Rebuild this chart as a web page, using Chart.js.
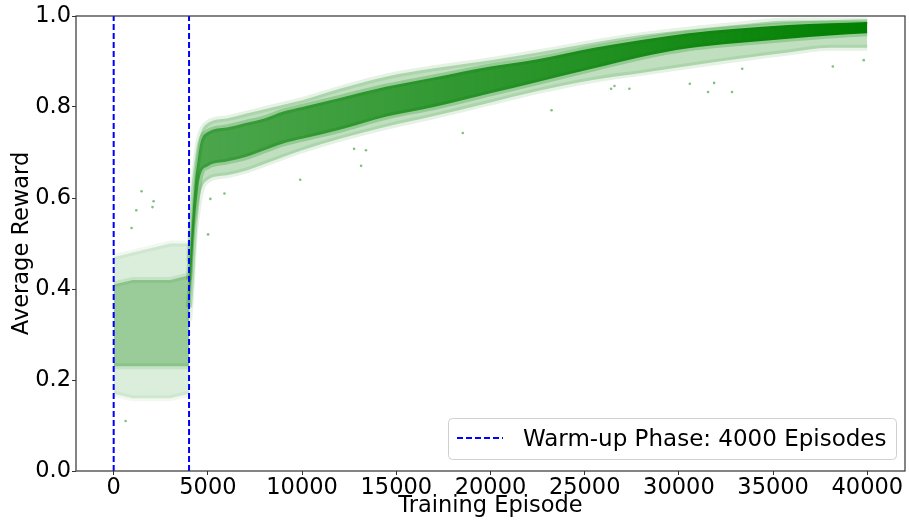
<!DOCTYPE html>
<html>
<head>
<meta charset="utf-8">
<script src="https://cdn.jsdelivr.net/npm/chart.js@4.4.1/dist/chart.umd.min.js"></script>
<style>
  body { margin: 0; background: #fff; }
  #wrap { width: 909px; height: 521px; }
</style>
</head>
<body>
<div id="wrap"><canvas id="chart" width="909" height="521"></canvas></div>
<script>
// warm-up episodes: spread of the reward cloud
var warmEpisodes  = [0, 1000, 2000, 3000, 4000];
var warmOuterLow  = [0.17, 0.16, 0.16, 0.16, 0.17];
var warmCoreLow   = [0.23, 0.23, 0.23, 0.23, 0.23];
var warmCoreHigh  = [0.41, 0.42, 0.42, 0.42, 0.43];
var warmOuterHigh = [0.47, 0.48, 0.49, 0.50, 0.50];

// training episodes after warm-up
var trainEpisodes  = [4000, 4100, 4200, 4300, 4450, 4600, 5000, 6000, 7000, 8000, 9000, 10000,
                      12000, 14500, 17000, 20000, 22500, 25500, 28000, 30500, 33000, 35800, 38000, 40000];
var trainOuterLow  = [0.33, 0.38, 0.45, 0.52, 0.57, 0.61, 0.64, 0.65, 0.66, 0.675, 0.69, 0.705,
                      0.73, 0.757, 0.78, 0.81, 0.835, 0.86, 0.875, 0.89, 0.905, 0.92, 0.93, 0.93];
var trainCoreLow   = [0.36, 0.42, 0.49, 0.55, 0.61, 0.65, 0.67, 0.68, 0.69, 0.705, 0.72, 0.73,
                      0.75, 0.779, 0.80, 0.83, 0.855, 0.885, 0.91, 0.929, 0.94, 0.95, 0.957, 0.962];
var trainCoreHigh  = [0.42, 0.50, 0.57, 0.63, 0.68, 0.72, 0.745, 0.755, 0.765, 0.775, 0.79, 0.80,
                      0.82, 0.845, 0.865, 0.889, 0.905, 0.93, 0.947, 0.962, 0.972, 0.98, 0.984, 0.987];
var trainOuterHigh = [0.46, 0.54, 0.61, 0.66, 0.71, 0.74, 0.765, 0.775, 0.785, 0.795, 0.805, 0.815,
                      0.84, 0.867, 0.885, 0.903, 0.92, 0.942, 0.958, 0.97, 0.98, 0.99, 0.99, 0.99];

// stray points that sit away from the cloud
var strayEpisodes = [635, 950, 1200, 1480, 2060, 2120, 5010, 5130, 5880, 9900, 12760, 13130, 13390,
                     18530, 23240, 26400, 26580, 27370, 30580, 31550, 31870, 32820, 33360, 38170, 39810];
var strayRewards  = [0.11, 0.534, 0.573, 0.615, 0.58, 0.593, 0.52, 0.598, 0.61, 0.64, 0.708, 0.671, 0.705,
                     0.743, 0.793, 0.84, 0.846, 0.84, 0.851, 0.833, 0.853, 0.833, 0.884, 0.889, 0.903];

var warmupEnd = 4000;
var xTicks = [0, 5000, 10000, 15000, 20000, 25000, 30000, 35000, 40000];
var yTicks = [0.0, 0.2, 0.4, 0.6, 0.8, 1.0];

function pts(xs, ys) {
    return xs.map(function(x, i) { return {x: x, y: ys[i]}; });
}

// one edge of a filled band; the wide faint border softens the edge
function band(xs, ys, color, edge, fill, order, smooth) {
    return {
        type: 'line',
        order: order,
        data: pts(xs, ys),
        borderWidth: 6,
        borderColor: edge,
        pointRadius: 0,
        tension: smooth ? 0.4 : 0,
        cubicInterpolationMode: smooth ? 'monotone' : 'default',
        backgroundColor: color,
        fill: fill ? '-1' : false
    };
}

// core gets denser towards the end of training
function coreGradient(context) {
    var chart = context.chart;
    if (!chart.chartArea) return 'rgba(0,128,0,0.75)';
    var xs = chart.scales.x;
    var g = chart.ctx.createLinearGradient(xs.getPixelForValue(4000), 0, xs.getPixelForValue(40000), 0);
    g.addColorStop(0, 'rgba(0,128,0,0.6)');
    g.addColorStop(0.5, 'rgba(0,128,0,0.78)');
    g.addColorStop(1, 'rgba(0,128,0,1)');
    return g;
}

var frame = {
    id: 'frame',
    afterDraw: function(chart) {
        var ctx = chart.ctx, a = chart.chartArea;
        ctx.save();
        ctx.strokeStyle = '#333';
        ctx.lineWidth = 1.2;
        ctx.strokeRect(a.left, a.top, a.right - a.left, a.bottom - a.top);

        // legend box in the lower right corner
        var bx = 448, by = 418, bw = 448, bh = 41;
        ctx.fillStyle = 'rgba(255,255,255,0.8)';
        ctx.strokeStyle = '#d0d0d0';
        ctx.lineWidth = 1;
        ctx.beginPath();
        ctx.roundRect(bx + 0.5, by + 0.5, bw, bh, 4);
        ctx.fill();
        ctx.stroke();
        ctx.strokeStyle = '#0000ff';
        ctx.lineWidth = 2;
        ctx.setLineDash([6, 3]);
        ctx.beginPath();
        ctx.moveTo(457, 438);
        ctx.lineTo(503, 438);
        ctx.stroke();
        ctx.setLineDash([]);
        ctx.fillStyle = '#000';
        ctx.font = '23px "DejaVu Sans"';
        ctx.textBaseline = 'alphabetic';
        ctx.fillText(chart.data.datasets[9].label, 523, 446);
        ctx.restore();
    }
};

var datasets = [
    band(warmEpisodes, warmOuterLow, 'rgba(0,128,0,0.14)', 'rgba(0,128,0,0.06)', false, 3, false),
    band(warmEpisodes, warmOuterHigh, 'rgba(0,128,0,0.14)', 'rgba(0,128,0,0.06)', true, 3, false),
    band(warmEpisodes, warmCoreLow, 'rgba(0,128,0,0.3)', 'rgba(0,128,0,0.1)', false, 2, false),
    band(warmEpisodes, warmCoreHigh, 'rgba(0,128,0,0.3)', 'rgba(0,128,0,0.1)', true, 2, false),
    band(trainEpisodes, trainOuterLow, 'rgba(0,128,0,0.25)', 'rgba(0,128,0,0.1)', false, 3, true),
    band(trainEpisodes, trainOuterHigh, 'rgba(0,128,0,0.25)', 'rgba(0,128,0,0.1)', true, 3, true),
    band(trainEpisodes, trainCoreLow, coreGradient, 'rgba(0,128,0,0.22)', false, 2, true),
    band(trainEpisodes, trainCoreHigh, coreGradient, 'rgba(0,128,0,0.22)', true, 2, true),
    {
        type: 'scatter',
        order: 1,
        data: pts(strayEpisodes, strayRewards),
        pointRadius: 1.3,
        borderWidth: 0,
        backgroundColor: 'rgba(0,128,0,0.5)'
    },
    {
        type: 'line',
        order: 0,
        label: 'Warm-up Phase: ' + warmupEnd + ' Episodes',
        data: [{x: 0, y: 0}, {x: 0, y: 1}],
        borderColor: '#0000ff',
        borderWidth: 2,
        borderDash: [6, 3],
        pointRadius: 0,
        fill: false
    },
    {
        type: 'line',
        order: 0,
        data: [{x: warmupEnd, y: 0}, {x: warmupEnd, y: 1}],
        borderColor: '#0000ff',
        borderWidth: 2,
        borderDash: [6, 3],
        pointRadius: 0,
        fill: false
    }
];

var tickFont = {family: 'DejaVu Sans', size: 22.5};

new Chart(document.getElementById('chart').getContext('2d'), {
    type: 'line',
    data: {datasets: datasets},
    options: {
        responsive: false,
        animation: false,
        events: [],
        layout: {padding: {top: 16, right: 2, left: 0, bottom: 0}},
        plugins: {legend: {display: false}, tooltip: {enabled: false}},
        scales: {
            x: {
                type: 'linear',
                min: -2000,
                max: 42000,
                afterBuildTicks: function(s) { s.ticks = xTicks.map(function(v) { return {value: v}; }); },
                afterFit: function(s) { s.height = 50; },
                ticks: {color: '#000', font: tickFont, padding: 0, maxRotation: 0, autoSkip: false,
                        callback: function(v) { return String(v); }},
                grid: {display: true, drawOnChartArea: false, drawTicks: true, tickLength: 4, color: '#333'},
                border: {display: false},
                title: {display: true, text: 'Training Episode', color: '#000',
                        font: {family: 'DejaVu Sans', size: 22.5}, padding: {top: 0, bottom: 1}}
            },
            y: {
                min: 0,
                max: 1,
                afterBuildTicks: function(s) { s.ticks = yTicks.map(function(v) { return {value: v}; }); },
                afterFit: function(s) { s.width = 76; },
                ticks: {color: '#000', font: tickFont, padding: 1,
                        callback: function(v) { return Number(v).toFixed(1); }},
                grid: {display: true, drawOnChartArea: false, drawTicks: true, tickLength: 4, color: '#333'},
                border: {display: false},
                title: {display: true, text: 'Average Reward', color: '#000',
                        font: {family: 'DejaVu Sans', size: 22.5}, padding: {top: 9, bottom: 0}}
            }
        }
    },
    plugins: [frame]
});
</script>
</body>
</html>
